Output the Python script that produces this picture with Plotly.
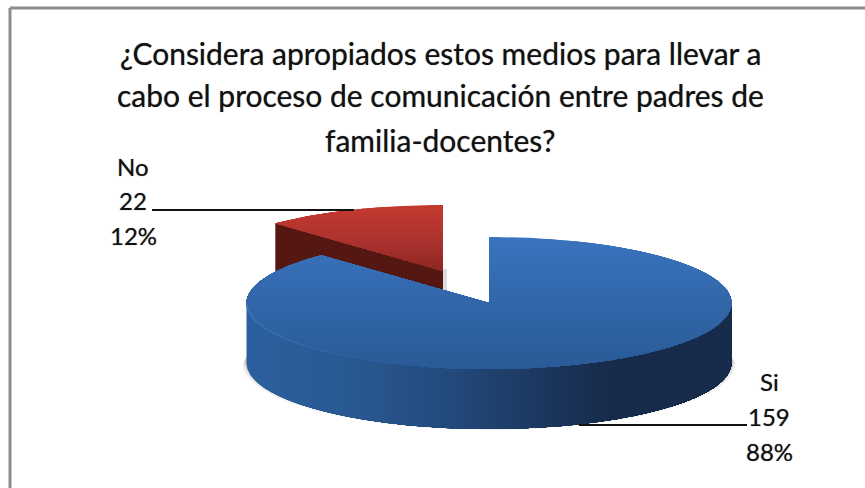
import numpy as np
import plotly.graph_objects as go

# datos
labels = ["Si", "No"]
values = [159, 22]
percents = ["88%", "12%"]
titulo = ["¿Considera apropiados estos medios para llevar a",
          "cabo el proceso de comunicación entre padres de",
          "familia-docentes?"]

# geometria del pastel en pixeles (los ejes van 1:1 con la ventana)
W, H = 865, 488
CX, CY = 489, 303
A, B = 242.5, 66
DEPTH = 60
OFFSET_NO = (-46, -32)  # porcion separada
SOMBRA_TEXTO = "0 0 1px rgba(0,0,0,0.55)"  # el original se ve mas grueso y borroso

total = sum(values)
corte = 360 * values[0] / total  # grados, sentido horario desde las 12


def punto(ang, cx, cy, dy=0):
    r = np.radians(ang)
    return cx + A * np.sin(r), cy - B * np.cos(r) + dy


def cuna(a0, a1, cx, cy):
    t = np.linspace(a0, a1, 240)
    x, y = punto(t, cx, cy)
    return np.r_[cx, x, cx], np.r_[cy, y, cy]


def pared(a0, a1, cx, cy, d=DEPTH):
    t = np.linspace(a0, a1, 200)
    x, y = punto(t, cx, cy)
    return np.r_[x, x[::-1]], np.r_[y, y[::-1] + d]


def recorte(x, y, eje, lim):
    # deja solo la parte del poligono con coordenada >= lim
    c = x if eje == "x" else y
    out_x, out_y = [], []
    n = len(x)
    for i in range(n):
        j = (i + 1) % n
        if c[i] >= lim:
            out_x.append(x[i])
            out_y.append(y[i])
        if (c[i] >= lim) != (c[j] >= lim):
            s = (lim - c[i]) / (c[j] - c[i])
            out_x.append(x[i] + s * (x[j] - x[i]))
            out_y.append(y[i] + s * (y[j] - y[i]))
    return out_x, out_y


def mezcla(stops, v):
    pos = [s[0] for s in stops]
    canales = [np.interp(v, pos, [s[1][k] for s in stops]) for k in range(3)]
    return "rgb(%d,%d,%d)" % tuple(canales)


fig = go.Figure()


def relleno(x, y, color):
    fig.add_trace(go.Scatter(x=x, y=y, mode="lines", fill="toself", fillcolor=color,
                             line=dict(width=0), hoverinfo="skip", showlegend=False))


def degradado(x, y, eje, paso, stops):
    c = x if eje == "x" else y
    for lim in np.arange(c.min(), c.max(), paso):
        px, py = recorte(x, y, eje, lim)
        if len(px) > 2:
            relleno(px, py, mezcla(stops, lim))


# porcion roja: va primero, el azul la tapa
rx, ry = CX + OFFSET_NO[0], CY + OFFSET_NO[1]
sx, sy = punto(np.array([corte]), rx, ry)
relleno([sx[0], rx, rx, sx[0]], [sy[0], ry, ry + DEPTH, sy[0] + DEPTH], "#551712")
relleno([rx, rx + 4, rx + 4, rx], [ry - 2, ry - 2, ry + 22, ry + 22], "rgba(120,120,120,0.25)")
x, y = cuna(corte, 360, rx, ry)
degradado(x, y, "y", 2, [(205, (196, 57, 47)), (235, (176, 52, 48)), (271, (140, 38, 34))])

# sombra blanda debajo del azul
for grow, alfa in [(4, 0.10), (2.5, 0.15), (1.2, 0.25)]:
    t = np.linspace(90, 270, 200)
    sombra_x = CX + (A + grow) * np.sin(np.radians(t))
    sombra_y = CY + DEPTH - 4 + grow - (B + 1) * np.cos(np.radians(t))
    relleno(np.r_[sombra_x, CX - A + 3, CX + A - 3],
            np.r_[sombra_y, CY + 48, CY + 48], "rgba(110,100,90,%.2f)" % alfa)

# porcion azul: pared frontal y cara superior
x, y = pared(90, 270, CX, CY)
degradado(x, y, "x", 4, [(246, (44, 96, 158)), (340, (42, 90, 148)), (440, (35, 76, 126)),
                         (530, (29, 58, 98)), (610, (23, 43, 74)), (731, (24, 44, 76))])
x, y = cuna(0, corte, CX, CY)
degradado(x, y, "y", 2, [(237, (58, 116, 190)), (300, (50, 103, 170)), (372, (42, 90, 150))])

# filo claro de la cara superior, se apaga hacia el centro
tramos = np.linspace(205, 270, 9)
for i in range(8):
    bx, by = punto(np.linspace(tramos[i + 1], tramos[i], 12), CX, CY)
    fig.add_trace(go.Scatter(x=bx, y=by, mode="lines",
                             line=dict(color="rgba(66,125,200,%.2f)" % (0.1 + 0.1 * i), width=1.5),
                             hoverinfo="skip", showlegend=False))

# lineas guia y marco (el marco sigue hasta el borde derecho e inferior)
fig.add_shape(type="line", x0=152, x1=354, y0=210, y1=210, line=dict(color="#111111", width=2))
fig.add_shape(type="line", x0=579, x1=747, y0=425, y1=425, line=dict(color="#111111", width=2))
fig.add_shape(type="line", x0=10, x1=W, y0=8, y1=8, line=dict(color="#8c8c8c", width=3))
fig.add_shape(type="line", x0=10, x1=10, y0=8, y1=H, line=dict(color="#8c8c8c", width=3))

for yy, linea in zip([53, 95, 140], titulo):
    fig.add_annotation(x=440, y=yy, text=linea, showarrow=False,
                       font=dict(size=30, color="#111111", shadow=SOMBRA_TEXTO))

# rotulos de datos
pos_si = (769, [381, 416, 451])
pos_no = (133, [166, 200, 235])
for (px, ys), nombre, val, pct in zip([pos_si, pos_no], labels, values, percents):
    for yy, txt in zip(ys, [nombre, str(val), pct]):
        fig.add_annotation(x=px, y=yy, text=txt, showarrow=False,
                           font=dict(size=24, color="#111111", shadow=SOMBRA_TEXTO))

fig.update_xaxes(range=[0, W], visible=False, fixedrange=True)
fig.update_yaxes(range=[H, 0], visible=False, fixedrange=True)
fig.update_layout(width=W, height=H, margin=dict(l=0, r=0, t=0, b=0), showlegend=False,
                  paper_bgcolor="white", plot_bgcolor="white",
                  font=dict(family="Lato, Carlito, sans-serif"))

# sin el margen del body los ejes coinciden con la ventana
fig.write_html("out.html", config={"displayModeBar": False},
               post_script="document.body.style.margin='0';document.body.style.overflow='hidden';")
